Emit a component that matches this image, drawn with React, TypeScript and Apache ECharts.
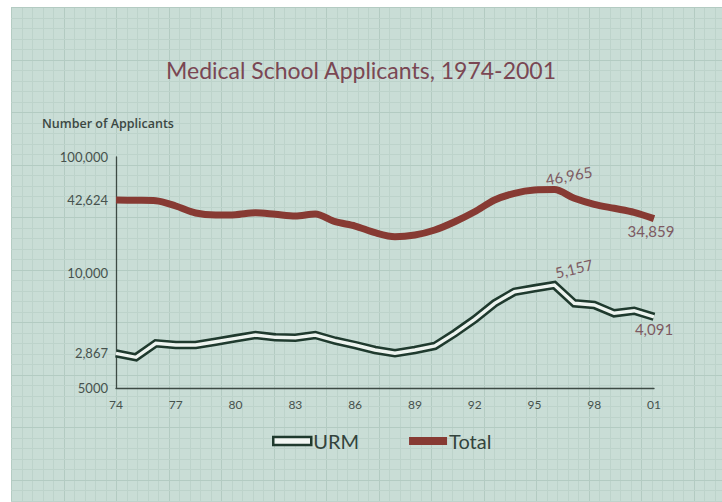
import React, { useEffect, useRef } from "react";
import * as echarts from "echarts";

const years = [1974, 1975, 1976, 1977, 1978, 1979, 1980, 1981, 1982, 1983, 1984, 1985, 1986, 1987, 1988, 1989, 1990, 1991, 1992, 1993, 1994, 1995, 1996, 1997, 1998, 1999, 2000, 2001];
const totalApplicants = [42624, 42500, 42330, 40120, 37200, 36370, 36500, 37330, 36660, 35960, 36790, 33580, 31790, 29000, 27330, 28040, 30120, 33580, 37750, 42620, 45420, 46790, 46965, 43330, 40830, 39170, 37500, 34859];
const urmApplicants = [2867, 2733, 3202, 3145, 3145, 3256, 3370, 3480, 3403, 3390, 3480, 3289, 3145, 2978, 2870, 2978, 3112, 3537, 4007, 4543, 4932, 5046, 5157, 4543, 4486, 4208, 4295, 4091];
const xTickYears = [1974, 1977, 1980, 1983, 1986, 1989, 1992, 1995, 1998, 2001];
const scaleTicks = [1000, 10000, 100000];
const scaleTickLabels = ["5000", "10,000", "100,000"];
const totalTick = [42624];
const urmTick = [2867];
const totalAnnotated: Record<number, "top" | "bottom"> = { 1996: "top", 2001: "bottom" };
const urmAnnotated: Record<number, "top" | "bottom"> = { 1996: "top", 2001: "bottom" };

const MAROON = "#873a33";
const DARK_GREEN = "#1f3a2e";
const NOTE = "#7d5a62";
const AXIS_TXT = "#46524d";
const FONT = "Lato, 'Open Sans', sans-serif";

function buildBackground() {
  const els: any[] = [];
  els.push({ type: "rect", z: -20, silent: true, shape: { x: 11, y: 7, width: 711, height: 495 }, style: { fill: "#c9ddd6" } });
  for (let i = 0; 11 + i * 10.5 < 722; i++) {
    const x = Math.round(11 + i * 10.5) + 0.5;
    els.push({ type: "line", z: -19, silent: true, shape: { x1: x, y1: 7, x2: x, y2: 502 }, style: { stroke: i % 5 === 0 ? "#b3cbc2" : "#bdd3cb", lineWidth: 1 } });
  }
  for (let j = 0; 7 + j * 10.5 < 502; j++) {
    const y = Math.round(7 + j * 10.5) + 0.5;
    els.push({ type: "line", z: -19, silent: true, shape: { x1: 11, y1: y, x2: 722, y2: y }, style: { stroke: j % 5 === 0 ? "#b3cbc2" : "#bdd3cb", lineWidth: 1 } });
  }
  return els;
}

function makeData(values: number[], notes: Record<number, "top" | "bottom">, offsets: Record<number, number[]>, rot: Record<number, number>) {
  return years.map((yr, i) => {
    const pos = notes[yr];
    if (!pos) return [yr, values[i]];
    return {
      value: [yr, values[i]],
      label: {
        show: true,
        position: pos,
        distance: 4,
        offset: offsets[yr],
        rotate: rot[yr] || 0,
        formatter: values[i].toLocaleString("en-US"),
        color: NOTE,
        fontSize: 15,
        fontFamily: FONT,
      },
    };
  });
}

export default function App() {
  const ref = useRef<HTMLDivElement>(null);
  useEffect(() => {
    if (!ref.current) return;
    const chart = echarts.init(ref.current, undefined, { renderer: "svg" });
    const yLabel = { color: AXIS_TXT, fontFamily: FONT, fontSize: 13, margin: 8 };
    const option: any = {
      animation: false,
      backgroundColor: "#ffffff",
      graphic: buildBackground(),
      title: [
        {
          text: "Medical School Applicants, 1974-2001",
          left: "center",
          top: 53,
          textStyle: { fontFamily: FONT, fontSize: 23, fontWeight: "normal", color: "#7a4753" },
        },
        {
          text: "Number of Applicants",
          left: 37,
          top: 112,
          textStyle: { fontFamily: "'Open Sans', sans-serif", fontSize: 12.5, fontWeight: 600, color: "#3b4742" },
        },
      ],
      legend: {
        left: 272,
        top: 430,
        padding: 0,
        itemWidth: 38,
        itemHeight: 8,
        itemGap: 50,
        textStyle: { fontFamily: FONT, fontSize: 20, color: "#33443d", lineHeight: 22, padding: [0, 0, 0, -3] },
        data: [
          { name: "URM", icon: "rect", itemStyle: { color: "#f2f6f3", borderColor: DARK_GREEN, borderWidth: 2.5 } },
          { name: "Total", icon: "rect", itemStyle: { color: MAROON, borderWidth: 0 } },
        ],
      },
      grid: { left: 116, right: 68, top: 157, bottom: 114 },
      xAxis: {
        type: "value",
        min: 1974,
        max: 2001,
        axisLine: { show: true, onZero: false, lineStyle: { color: "#3d4a44", width: 1.3 } },
        axisTick: { show: false },
        splitLine: { show: false },
        axisLabel: {
          customValues: xTickYears,
          formatter: (v: number) => String(v).slice(2),
          color: AXIS_TXT,
          fontFamily: FONT,
          fontSize: 12,
          margin: 10,
        },
      },
      yAxis: [
        {
          type: "log",
          logBase: 10,
          min: 1000,
          max: 100000,
          position: "left",
          axisLine: { show: true, onZero: false, lineStyle: { color: "#3d4a44", width: 1.3 } },
          axisTick: { show: false },
          splitLine: { show: false },
          axisLabel: {
            ...yLabel,
            customValues: scaleTicks,
            formatter: (v: number) => {
              const k = scaleTicks.findIndex((t) => Math.abs(t - v) < 1);
              return k >= 0 ? scaleTickLabels[k] : "";
            },
          },
        },
        {
          type: "value",
          min: -35700,
          max: 60540,
          position: "left",
          axisLine: { show: false, onZero: false },
          axisTick: { show: false },
          splitLine: { show: false },
          axisLabel: {
            ...yLabel,
            customValues: totalTick,
            formatter: (v: number) => Math.round(v).toLocaleString("en-US"),
          },
        },
        {
          type: "value",
          min: 1704,
          max: 9448,
          position: "left",
          axisLine: { show: false, onZero: false },
          axisTick: { show: false },
          splitLine: { show: false },
          axisLabel: {
            ...yLabel,
            customValues: urmTick,
            formatter: (v: number) => Math.round(v).toLocaleString("en-US"),
          },
        },
      ],
      series: [
        {
          name: "Total",
          type: "line",
          yAxisIndex: 1,
          smooth: 0.3,
          symbol: "circle",
          symbolSize: 0,
          showSymbol: true,
          itemStyle: { color: MAROON },
          lineStyle: { color: MAROON, width: 7, cap: "butt" },
          data: makeData(totalApplicants, totalAnnotated, { 1996: [16, 0], 2001: [-3, 1] }, { 1996: 10 }),
          z: 3,
        },
        {
          name: "URM",
          type: "line",
          yAxisIndex: 2,
          symbol: "circle",
          symbolSize: 0,
          showSymbol: true,
          itemStyle: { color: DARK_GREEN },
          lineStyle: { color: DARK_GREEN, width: 8.5, join: "miter" },
          data: makeData(urmApplicants, urmAnnotated, { 1996: [22, 0], 2001: [0, 1] }, { 1996: 14 }),
          z: 3,
        },
        {
          name: "URM inner",
          type: "line",
          yAxisIndex: 2,
          showSymbol: false,
          symbol: "none",
          lineStyle: { color: "#eef4f0", width: 3.4, join: "miter" },
          data: years.map((yr, i) => [yr, urmApplicants[i]]),
          z: 4,
          silent: true,
        },
      ],
    };
    chart.setOption(option);
    return () => chart.dispose();
  }, []);
  return <div ref={ref} style={{ position: "fixed", left: 0, top: 0, width: 722, height: 502 }} />;
}
